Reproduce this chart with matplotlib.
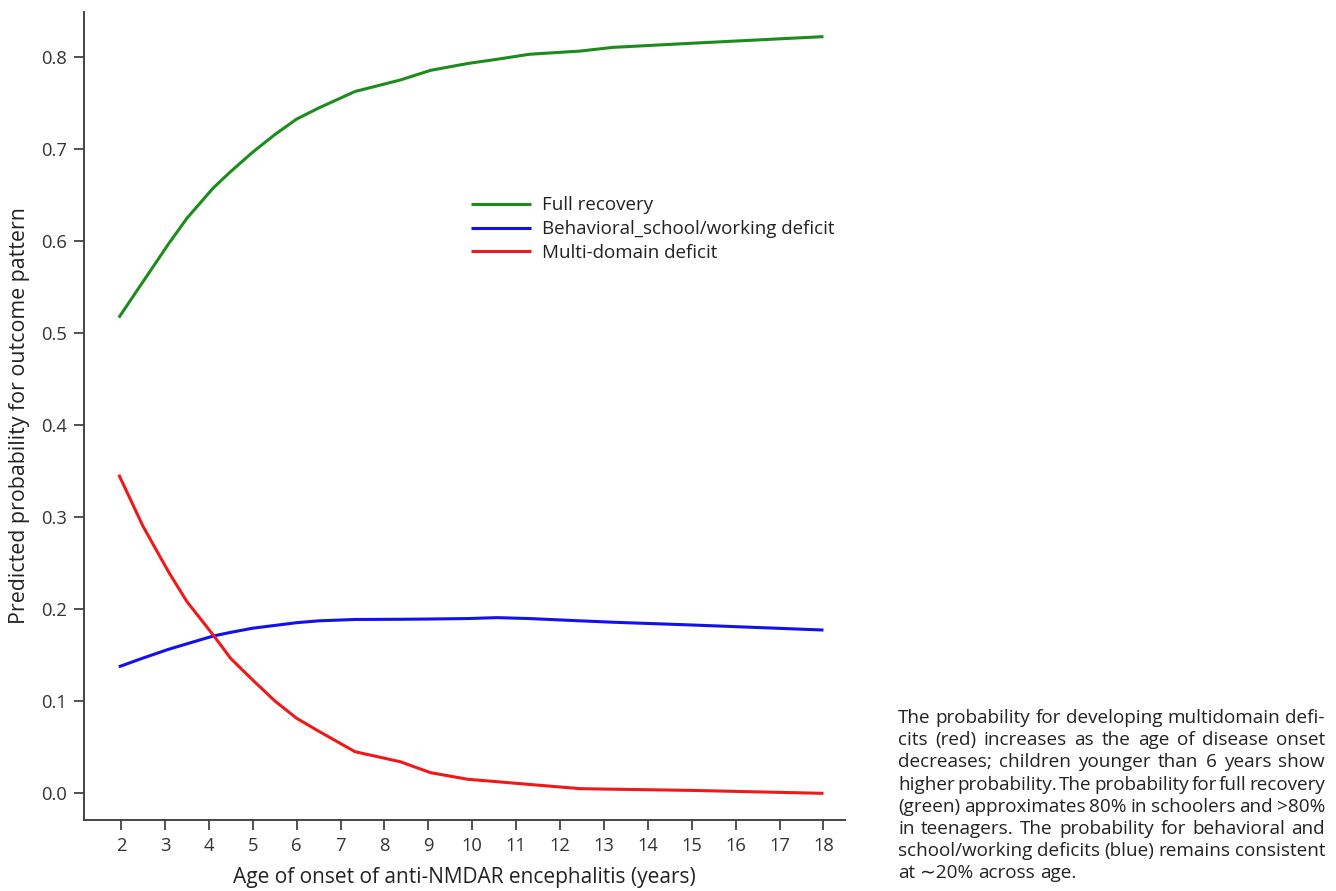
import matplotlib

matplotlib.use("Agg")
import matplotlib.pyplot as plt

# values
age_points = [1.95, 2.5, 3.08, 3.5, 4.1, 4.5, 5.0, 5.5, 6.0, 6.5, 7.33,
              8.36, 9.05, 9.9, 10.56, 11.3, 12.46, 13.2, 15.0, 18.0]
full_recovery = [0.517, 0.556, 0.597, 0.625, 0.658, 0.676, 0.697, 0.716,
                 0.733, 0.745, 0.763, 0.7755, 0.786, 0.7935, 0.798, 0.8035,
                 0.807, 0.811, 0.8155, 0.8227]
behavioral = [0.137, 0.1465, 0.156, 0.162, 0.1705, 0.1745, 0.179, 0.182,
              0.185, 0.187, 0.1885, 0.1887, 0.189, 0.1895, 0.1905, 0.1895,
              0.187, 0.1855, 0.1825, 0.177]
multi_domain = [0.346, 0.29, 0.2405, 0.208, 0.1716, 0.146, 0.1226, 0.10,
                0.081, 0.067, 0.0446, 0.0337, 0.0218, 0.0146, 0.012, 0.009,
                0.0044, 0.0038, 0.0025, -0.0007]

series = [
    ("Full recovery", full_recovery, "#1c8c1c"),
    ("Behavioral_school/working deficit", behavioral, "#1010f0"),
    ("Multi-domain deficit", multi_domain, "#f01818"),
]

x_ticks = list(range(2, 19))
y_ticks = [0.0, 0.1, 0.2, 0.3, 0.4, 0.5, 0.6, 0.7, 0.8]

caption_lines = [
    "The probability for developing multidomain defi-",
    "cits (red) increases as the age of disease onset",
    "decreases; children younger than 6 years show",
    "higher probability. The probability for full recovery",
    "(green) approximates 80% in schoolers and >80%",
    "in teenagers. The probability for behavioral and",
    "school/working deficits (blue) remains consistent",
    "at \u223c20% across age.",
]

plt.rcParams["font.family"] = ["Open Sans", "DejaVu Sans"]

W, H = 1336, 891
fig = plt.figure(figsize=(W / 100, H / 100), dpi=100)
ax = fig.add_axes([83.7 / W, 1 - 820 / H, (845 - 83.7) / W, (820 - 12) / H])

for label, values, color in series:
    ax.plot(age_points, values, color=color, lw=2.2, label=label,
            solid_capstyle="butt")

ax.set_xlim(1.15, 18.49)
ax.set_ylim(-0.0297, 0.8495)
ax.set_xticks(x_ticks)
ax.set_yticks(y_ticks)
ax.set_yticklabels([f"{v:.1f}" for v in y_ticks])

for side in ("top", "right"):
    ax.spines[side].set_visible(False)
for side in ("left", "bottom"):
    ax.spines[side].set_color("#444444")
    ax.spines[side].set_linewidth(1.4)
ax.tick_params(colors="#444444", labelcolor="#333333", labelsize=13.2,
               length=7, width=1.3, pad=5)

ax.set_xlabel("Age of onset of anti-NMDAR encephalitis (years)",
              fontsize=15, color="#222222", labelpad=9)
ax.set_ylabel("Predicted probability for outcome pattern",
              fontsize=15.4, color="#222222", labelpad=8)

ax.legend(loc="upper left", bbox_to_anchor=(463 / W, 1 - 189 / H),
          bbox_transform=fig.transFigure, frameon=False, fontsize=13.5,
          handlelength=3.2, labelspacing=0.3, handletextpad=0.59,
          borderaxespad=0, labelcolor="#222222")

# justified caption, placed word by word
renderer = fig.canvas.get_renderer()
left_px, right_px = 898, 1325
top_px, line_step = 718, 22.2
cap_size = 13.6
for i, line in enumerate(caption_lines):
    y = 1 - (top_px + i * line_step) / H
    words = line.split(" ")
    texts = [fig.text(0, y, w, fontsize=cap_size, color="#222222", va="center")
             for w in words]
    widths = [t.get_window_extent(renderer).width for t in texts]
    if i == len(caption_lines) - 1 or len(words) == 1:
        probe_a = fig.text(0, 0, "a b", fontsize=cap_size)
        probe_b = fig.text(0, 0, "ab", fontsize=cap_size)
        gap = (probe_a.get_window_extent(renderer).width
               - probe_b.get_window_extent(renderer).width)
        probe_a.remove()
        probe_b.remove()
    else:
        gap = (right_px - left_px - sum(widths)) / (len(words) - 1)
    x = left_px
    for t, w in zip(texts, widths):
        t.set_x(x / W)
        x += w + gap

fig.savefig("out.png", dpi=100)
